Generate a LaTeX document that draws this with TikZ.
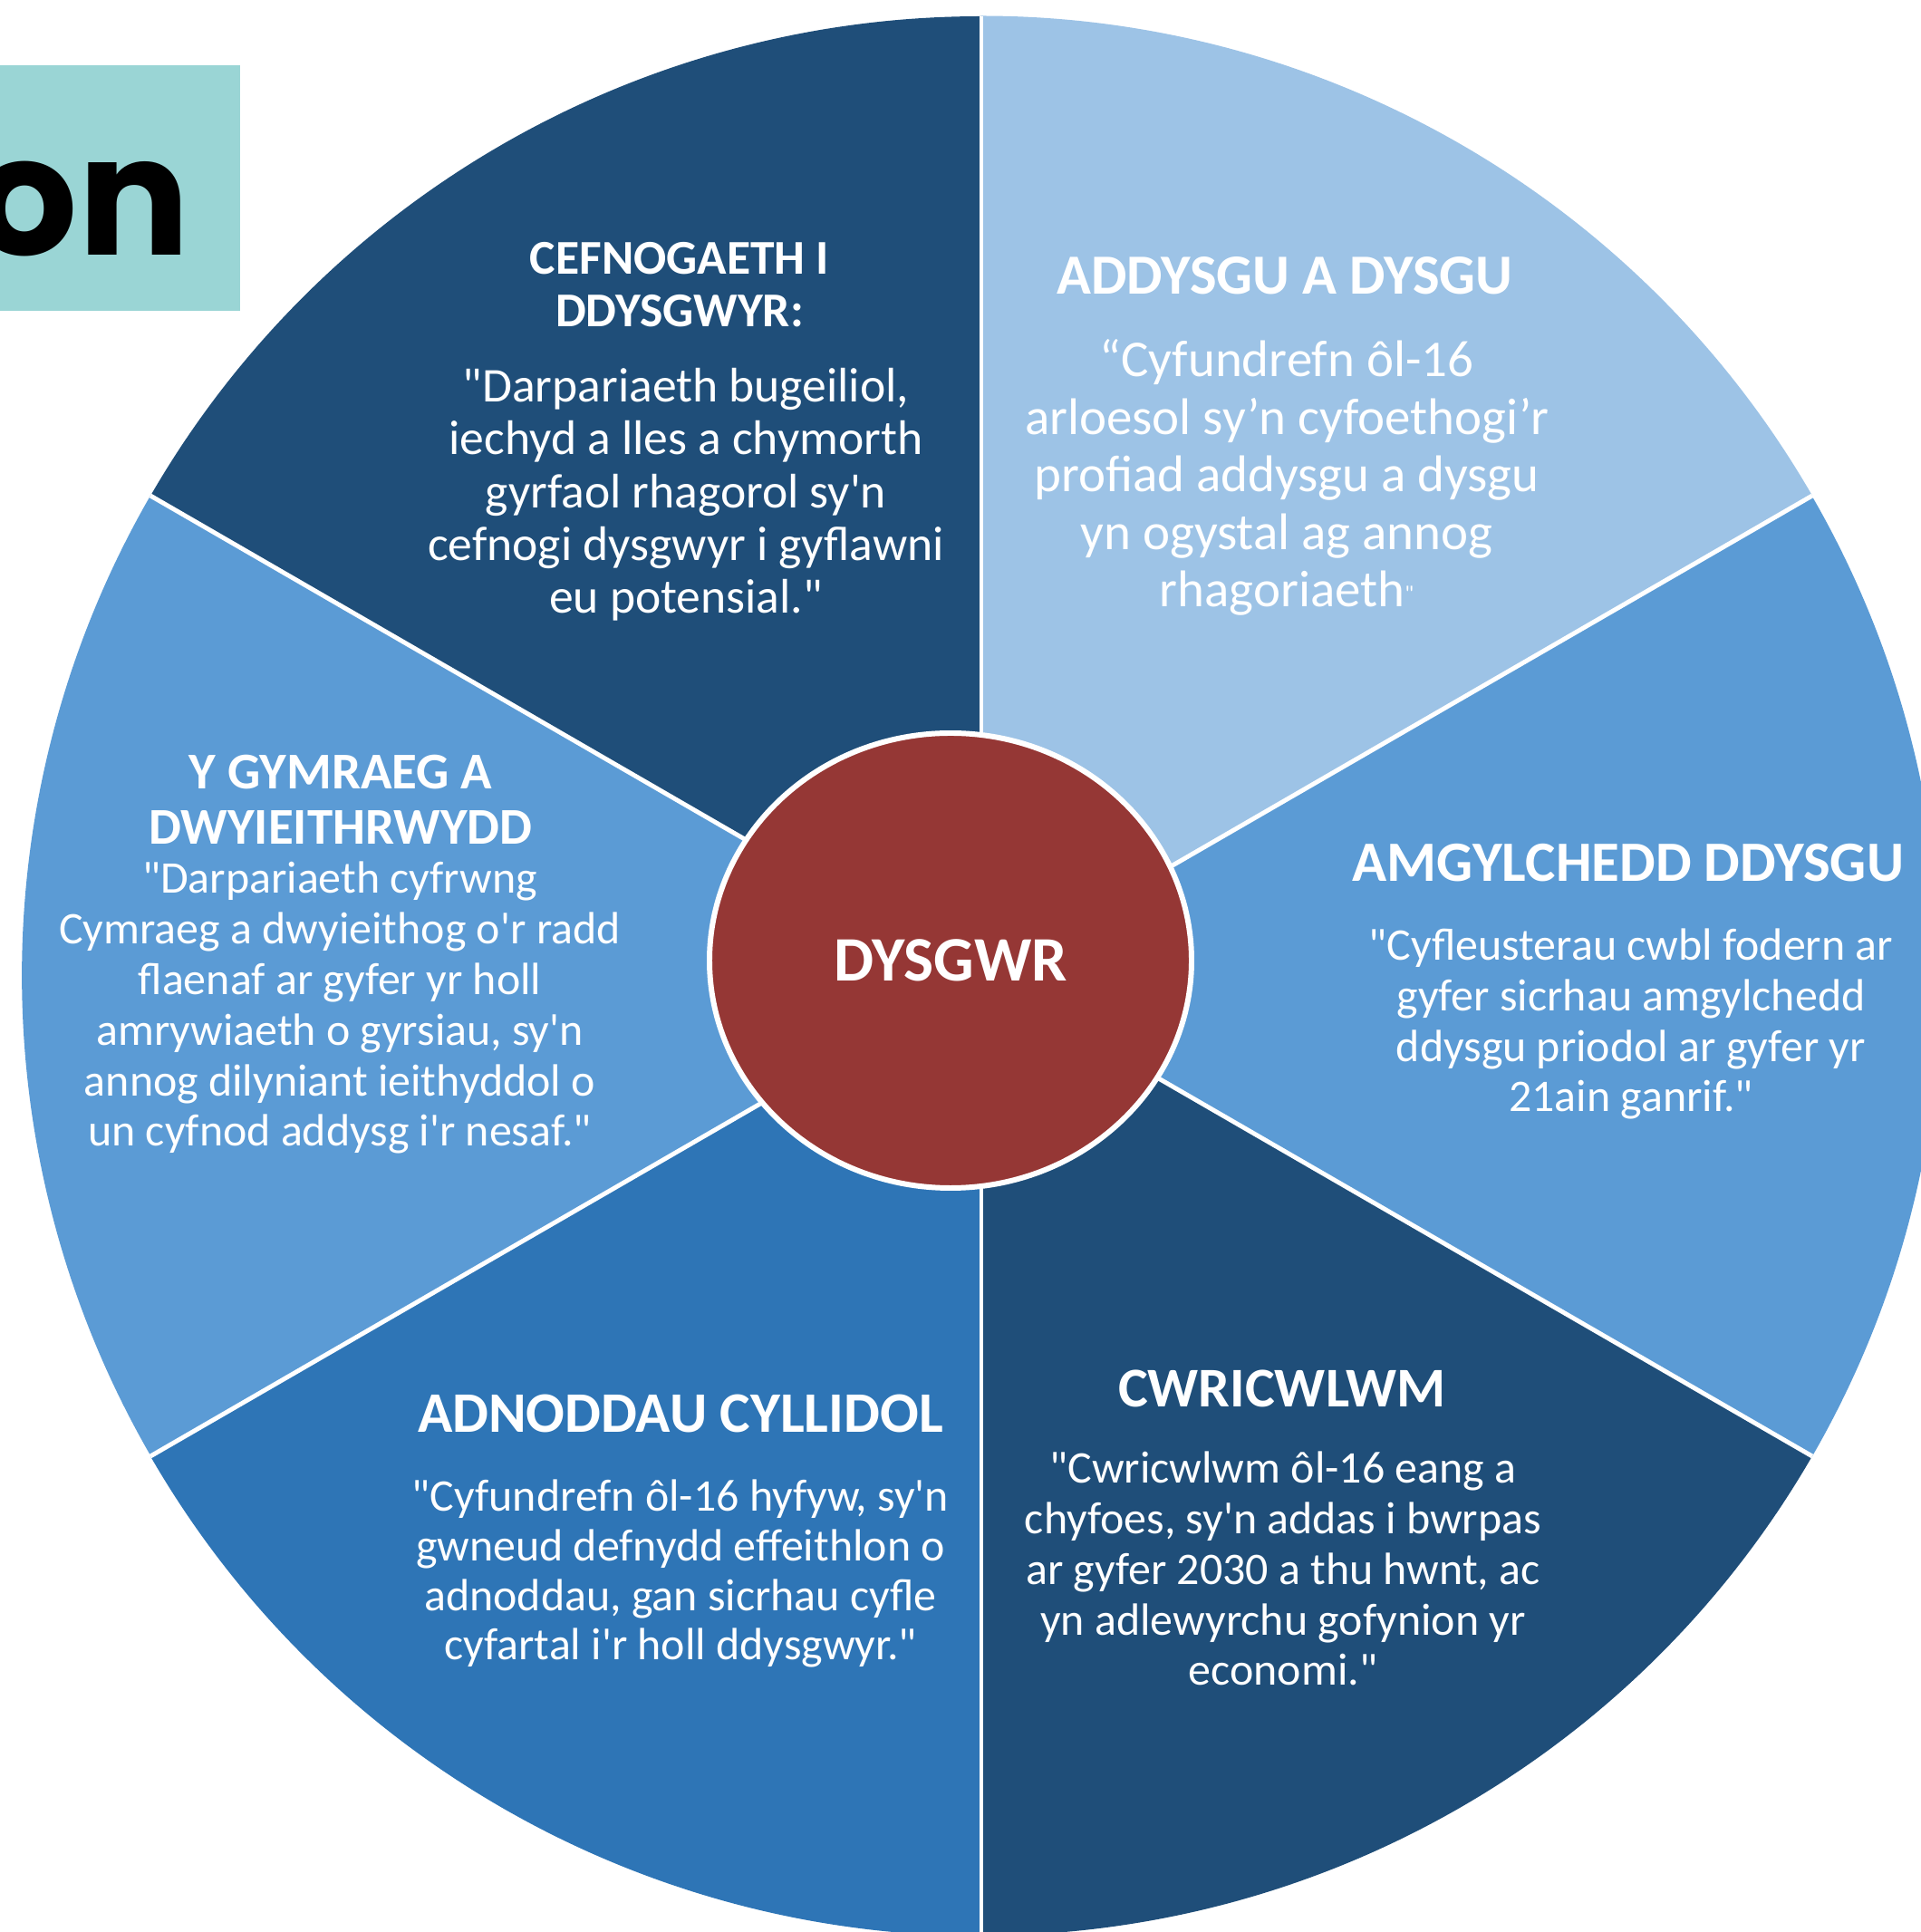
\documentclass[tikz,border=0pt]{standalone}
\usepackage{fontspec}
\setmainfont{Carlito}
\newfontfamily\titlefont{Poppins}
\usetikzlibrary{shapes.geometric}

\definecolor{navy}{RGB}{31,78,121}
\definecolor{paleblue}{RGB}{157,195,230}
\definecolor{midblue}{RGB}{91,155,213}
\definecolor{deepblue}{RGB}{46,117,182}
\definecolor{hubred}{RGB}{149,55,53}
\definecolor{tealbox}{RGB}{154,213,213}
\newcommand{\ap}{\textquotesingle}
\newcommand{\qd}{\textquotedbl}

\begin{document}
\begin{tikzpicture}[
    hdr/.style={text=white, inner sep=0pt, anchor=base, align=center},
    txt/.style={text=white, inner sep=0pt, anchor=base, align=center},
    divider/.style={white, line width=1.4pt},
    hub/.style={ellipse, fill=hubred, draw=white, line width=1.7pt, inner sep=0pt,
        minimum width=5.32cm, minimum height=5.02cm, text=white,
        font=\bfseries\fontsize{19.9}{22}\selectfont}]
    \useasboundingbox (0cm,0cm) rectangle (21.2cm,21.32cm);

% title tab
    \fill[tealbox] (0cm,17.89cm) rectangle (2.65cm,20.60cm);
    \node[inner sep=0pt, anchor=base east, font=\titlefont\bfseries\fontsize{52}{60}\selectfont] (title) at (2.10cm,18.50cm) {on};

% wheel
    \coordinate (ctr) at (10.83cm,10.55cm);
    \coordinate (r90) at (10.83cm,21.14cm);
    \coordinate (r30) at (20.00cm,15.85cm);
    \coordinate (r-30) at (20.00cm,5.25cm);
    \coordinate (r-90) at (10.83cm,-0.04cm);
    \coordinate (r210) at (1.66cm,5.25cm);
    \coordinate (r150) at (1.66cm,15.85cm);

    \fill[navy] (ctr) -- (r90) arc[start angle=90, end angle=150, radius=10.59cm] -- cycle;
    \fill[paleblue] (ctr) -- (r30) arc[start angle=30, end angle=90, radius=10.59cm] -- cycle;
    \fill[midblue] (ctr) -- (r-30) arc[start angle=-30, end angle=30, radius=10.59cm] -- cycle;
    \fill[navy] (ctr) -- (r-90) arc[start angle=-90, end angle=-30, radius=10.59cm] -- cycle;
    \fill[deepblue] (ctr) -- (r210) arc[start angle=210, end angle=270, radius=10.59cm] -- cycle;
    \fill[midblue] (ctr) -- (r150) arc[start angle=150, end angle=210, radius=10.59cm] -- cycle;

    \draw[divider] (ctr) -- (r90);
    \draw[divider] (ctr) -- (r30);
    \draw[divider] (ctr) -- (r-30);
    \draw[divider] (ctr) -- (r-90);
    \draw[divider] (ctr) -- (r210);
    \draw[divider] (ctr) -- (r150);

    \node[hub] (hub) at (10.49cm,10.72cm) {DYSGWR};

% CEFNOGAETH (nodes sit on their last baseline)
    \node[hdr, font=\bfseries\fontsize{15.25}{16.5}\selectfont] (hdcef) at (7.50cm,17.71cm)
        {CEFNOGAETH I\\DDYSGWYR:};
    \node[txt, font=\fontsize{15.25}{16.6}\selectfont] (txcef) at (7.57cm,14.55cm)
        {\qd Darpariaeth bugeiliol,\\iechyd a lles a chymorth\\gyrfaol rhagorol sy\ap n\\cefnogi dysgwyr i gyflawni\\eu potensial.\qd};

% ADDYSGU
    \node[hdr, font=\bfseries\fontsize{17.8}{19}\selectfont] (hdadd) at (14.18cm,18.07cm)
        {ADDYSGU A DYSGU};
    \node[txt, font=\fontsize{16.2}{18.1}\selectfont] (txadd) at (14.20cm,14.62cm)
        {“Cyfundrefn ôl-16\\arloesol sy’n cyfoethogi’r\\profiad addysgu a dysgu\\yn ogystal ag annog\\rhagoriaeth\raisebox{0.25ex}{\scriptsize\qd}};

% AMGYLCHEDD
    \node[hdr, font=\bfseries\fontsize{17.9}{19}\selectfont] (hdamg) at (17.97cm,11.59cm)
        {AMGYLCHEDD DDYSGU};
    \node[txt, font=\fontsize{14.2}{15.9}\selectfont] (txamg) at (18.00cm,9.05cm)
        {\qd Cyfleusterau cwbl fodern ar\\gyfer sicrhau amgylchedd\\ddysgu priodol ar gyfer yr\\21ain ganrif.\qd};

% CWRICWLWM
    \node[hdr, font=\bfseries\fontsize{17.6}{19}\selectfont] (hdcwr) at (14.15cm,5.79cm)
        {CWRICWLWM};
    \node[txt, font=\fontsize{14.2}{15.9}\selectfont] (txcwr) at (14.16cm,2.72cm)
        {\qd Cwricwlwm ôl-16 eang a\\chyfoes, sy\ap n addas i bwrpas\\ar gyfer 2030 a thu hwnt, ac\\yn adlewyrchu gofynion yr\\economi.\qd};

% ADNODDAU
    \node[hdr, font=\bfseries\fontsize{18}{19}\selectfont] (hdadn) at (7.51cm,5.51cm)
        {ADNODDAU CYLLIDOL};
    \node[txt, font=\fontsize{14.2}{15.6}\selectfont] (txadn) at (7.51cm,3.00cm)
        {\qd Cyfundrefn ôl-16 hyfyw, sy\ap n\\gwneud defnydd effeithlon o\\adnoddau, gan sicrhau cyfle\\cyfartal i\ap r holl ddysgwyr.\qd};

% CYMRAEG
    \node[hdr, font=\bfseries\fontsize{16.2}{17.6}\selectfont] (hdcym) at (3.76cm,12.00cm)
        {Y GYMRAEG A\\DWYIEITHRWYDD};
    \node[txt, font=\fontsize{14.2}{15.9}\selectfont] (txcym) at (3.75cm,8.67cm)
        {\qd Darpariaeth cyfrwng\\Cymraeg a dwyieithog o\ap r radd\\flaenaf ar gyfer yr holl\\amrywiaeth o gyrsiau, sy\ap n\\annog dilyniant ieithyddol o\\un cyfnod addysg i\ap r nesaf.\qd};

\end{tikzpicture}
\end{document}
